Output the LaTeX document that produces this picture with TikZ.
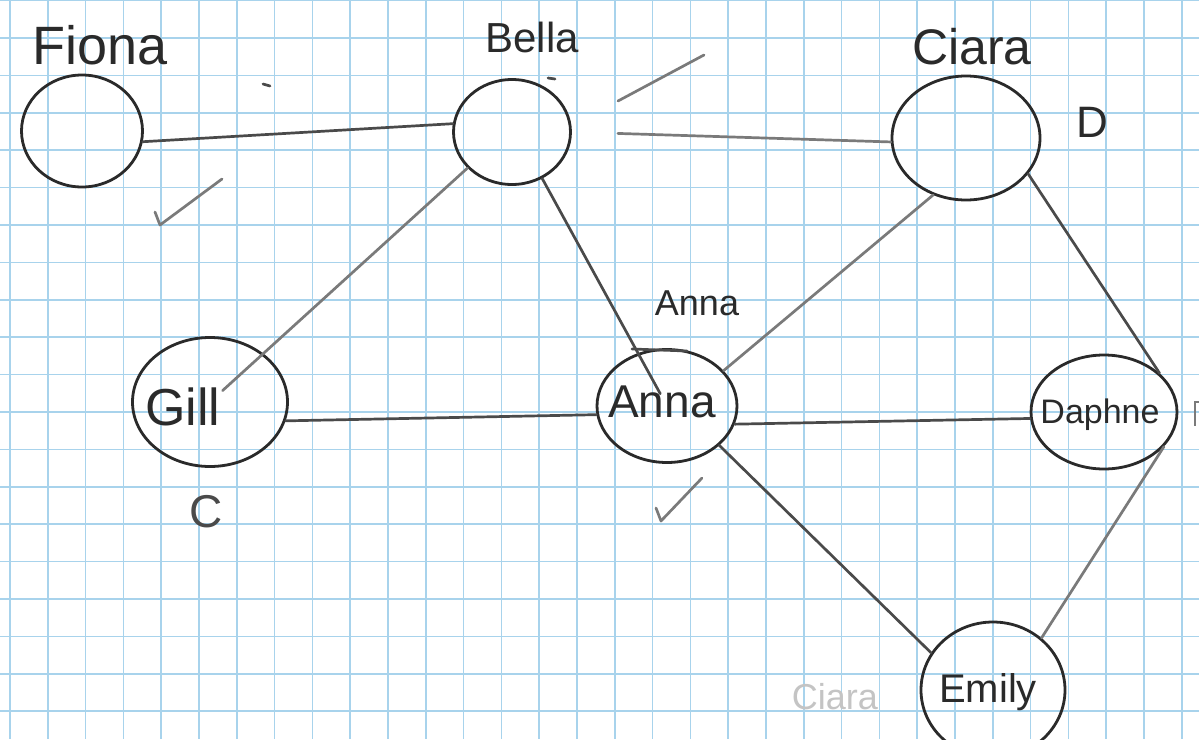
\documentclass[tikz,border=0pt]{standalone}
\usepackage{fontspec}
\setmainfont{Liberation Sans}
\usetikzlibrary{shapes.geometric}
\definecolor{ink}{HTML}{2A2A2A}
\definecolor{pencil}{HTML}{4A4A4A}
\definecolor{pencilL}{HTML}{7A7A7A}
\definecolor{gridblue}{HTML}{A8D3EC}
\definecolor{faint}{HTML}{C4C4C4}
\begin{document}
\begin{tikzpicture}[x=1pt,y=-1pt,
  ell/.style={draw=ink, line width=2.8pt, ellipse, inner sep=0pt},
  edge/.style={draw=pencil, line width=2.7pt, line cap=round},
  lightedge/.style={draw=pencilL, line width=2.7pt, line cap=round},
  hand/.style={text=ink, inner sep=0pt},
  tick/.style={draw=pencilL, line width=2.7pt, line cap=round, line join=round}
]
% paper and grid
\fill[white] (0,0) rectangle (1199,739);
\useasboundingbox (0,0) rectangle (1199,739);
\begin{scope}
\clip (0,0) rectangle (1199,739);
\foreach \i in {0,...,31} \draw[gridblue, line width=1.7pt] ({10+37.8*\i},0) -- ({10+37.8*\i},739);
\foreach \j in {-1,...,19} \draw[gridblue, line width=1.7pt] (0,{38+37.4*\j}) -- (1199,{38+37.4*\j});
\end{scope}

% vertices
\node[ell, minimum width=121pt, minimum height=112pt] (fiona) at (82,131) {};
\node[ell, minimum width=117pt, minimum height=105pt] (bella) at (512,132) {};
\node[ell, minimum width=148pt, minimum height=124pt] (ciara) at (966,138) {};
\node[ell, minimum width=155pt, minimum height=129pt,
  label={[hand, font=\fontsize{52}{56}\selectfont, xshift=-27pt, yshift=-5pt]center:Gill}] (gill) at (210,402) {};
\node[ell, minimum width=140pt, minimum height=113pt,
  label={[hand, font=\fontsize{46}{50}\selectfont, xshift=-5pt, yshift=4pt]center:Anna}] (anna) at (667,406) {};
\node[ell, minimum width=146pt, minimum height=114pt,
  label={[hand, font=\fontsize{34}{38}\selectfont, xshift=-4pt, yshift=-3pt]center:Daphne}] (daphne) at (1104,412) {};
\node[ell, minimum width=144pt, minimum height=136pt,
  label={[hand, font=\fontsize{40}{44}\selectfont, xshift=-5pt, yshift=-2pt]center:Emily}] (emily) at (993,690) {};

% name labels
\node[hand, font=\fontsize{54}{58}\selectfont] (tfiona) at (100,45) {Fiona};
\node[hand, font=\fontsize{42}{46}\selectfont] (tbella) at (532,37) {Bella};
\node[hand, font=\fontsize{50}{54}\selectfont] (tciara) at (972,47) {Ciara};
\node[hand, font=\fontsize{36}{40}\selectfont] (tanna) at (697,303) {Anna};
\node[text=faint, inner sep=0pt, font=\fontsize{36}{40}\selectfont] (tciara2) at (835,697) {Ciara};
\node[hand, font=\fontsize{44}{48}\selectfont] (markD) at (1092,122) {D};
\node[hand, text=pencil, font=\fontsize{46}{50}\selectfont] (markC) at (206,512) {C};

% edges
\draw[edge] (fiona.-10) -- (bella.172);
\draw[lightedge, shorten <=46pt] (bella.0) -- (ciara.183);
\draw[lightedge, shorten >=17pt] (bella.219) -- (gill.center);
\draw[edge, shorten >=14pt] (bella.-57) -- (anna.center);
\draw[edge] (gill.-14) -- (anna.187);
\draw[lightedge] (ciara.240) -- (anna.32);
\draw[edge] (ciara.-30) -- (daphne.35);
\draw[edge] (anna.-15) -- (daphne.185);
\draw[edge] (anna.-37) -- (emily.149);
\draw[lightedge] (daphne.-30) -- (emily.47);

% pencil marks
\coordinate (c1a) at (155,212); \coordinate (c1b) at (160,225); \coordinate (c1c) at (222,179);
\draw[tick] (c1a) -- (c1b) -- (c1c);
\coordinate (c2a) at (656,508); \coordinate (c2b) at (661,521); \coordinate (c2c) at (702,478);
\draw[tick] (c2a) -- (c2b) -- (c2c);
\coordinate (c3a) at (618,101); \coordinate (c3b) at (704,55);
\draw[tick] (c3a) -- (c3b);
\coordinate (d1a) at (263,84); \coordinate (d1b) at (270,86);
\draw[edge] (d1a) -- (d1b);
\coordinate (d2a) at (548,78); \coordinate (d2b) at (555,79);
\draw[edge] (d2a) -- (d2b);
\coordinate (o1a) at (632,349); \coordinate (o1b) at (687,351);
\draw[edge] (o1a) -- (o1b);
\coordinate (b1a) at (1199,402); \coordinate (b1b) at (1195,402); \coordinate (b1c) at (1195,426);
\draw[draw=pencilL, line width=1.6pt] (b1a) -- (b1b) -- (b1c);
\end{tikzpicture}
\end{document}
